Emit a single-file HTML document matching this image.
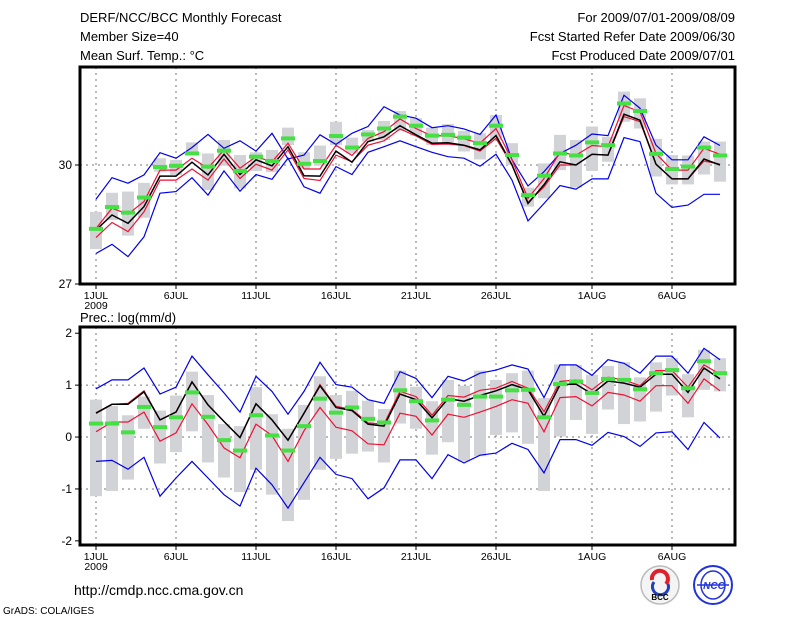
<!DOCTYPE html>
<html><head><meta charset="utf-8"><style>
html,body{margin:0;padding:0;background:#fff;}
svg{display:block;font-family:"Liberation Sans",sans-serif;}
</style></head><body>
<svg id="chart" width="800" height="618" viewBox="0 0 800 618" xmlns="http://www.w3.org/2000/svg">
<rect x="0" y="0" width="800" height="618" fill="#fff"/>
<g font-size="13" fill="#000">
<text x="80" y="22">DERF/NCC/BCC Monthly Forecast</text>
<text x="80" y="41">Member Size=40</text>
<text x="80" y="60">Mean Surf. Temp.: °C</text>
<text x="735" y="22" text-anchor="end">For 2009/07/01-2009/08/09</text>
<text x="735" y="41" text-anchor="end">Fcst Started Refer Date 2009/06/30</text>
<text x="735" y="60" text-anchor="end">Fcst Produced Date 2009/07/01</text>
<text x="80" y="322">Prec.: log(mm/d)</text>
<text x="74" y="595" font-size="14">http://cmdp.ncc.cma.gov.cn</text>
<text x="3" y="614" font-size="10">GrADS: COLA/IGES</text>
</g>
<g>
<circle cx="660" cy="585" r="19" fill="#f4f4f4" stroke="#bbb" stroke-width="1.5"/>
<path d="M652 580 a8 8 0 1 1 14 4" fill="none" stroke="#e0202a" stroke-width="4"/>
<path d="M668 584 a8 8 0 1 1 -14 -2" fill="none" stroke="#2040c0" stroke-width="3"/>
<text x="660" y="600" font-size="8" text-anchor="middle" font-weight="bold">BCC</text>
</g>
<g>
<circle cx="713" cy="585" r="19" fill="#fff" stroke="#2233dd" stroke-width="2"/>
<ellipse cx="713" cy="585" rx="12" ry="14" fill="none" stroke="#2233dd" stroke-width="1.5"/>
<line x1="697" y1="585" x2="729" y2="585" stroke="#2233dd" stroke-width="1.5"/>
<text x="714" y="589" font-size="10" text-anchor="middle" fill="#2233dd" font-style="italic" font-weight="bold">NCC</text>
</g>
<g id="top"></g>
<g id="bot"></g>
</svg>
<script>
const days = ["1JUL","6JUL","11JUL","16JUL","21JUL","26JUL","1AUG","6AUG"];
const dayIdx = [0,5,10,15,20,25,31,36];
const tTicks = [27,30];
const pTicks = [-2,-1,0,1,2];
// temperature panel
const tUp = [29.14,29.68,29.54,29.75,30.31,30.17,30.44,30.77,30.42,30.61,30.35,30.80,30.15,30.25,30.76,30.52,30.80,30.97,31.47,31.26,31.18,30.94,30.99,30.91,30.77,31.26,30.13,29.47,29.83,30.29,30.50,30.78,30.74,31.76,31.43,30.50,30.13,30.13,30.71,30.49];
const tLo = [27.77,28.00,27.69,28.19,29.29,29.33,29.68,29.24,29.85,29.34,29.76,29.64,30.17,29.45,29.29,29.96,29.76,30.32,30.46,30.61,30.46,30.32,30.21,30.17,29.97,30.27,29.62,28.59,29.03,29.48,29.39,29.65,29.65,30.69,30.59,29.29,28.93,28.99,29.26,29.26];
const tMean = [28.36,28.74,28.53,28.95,29.72,29.72,30.07,29.75,30.27,29.76,30.13,29.98,30.46,29.73,29.72,30.35,30.07,30.59,30.71,30.99,30.76,30.55,30.56,30.50,30.38,30.74,30.00,29.03,29.50,30.08,30.00,30.27,30.25,31.28,31.13,30.02,29.65,29.65,30.15,30.00];
const tRedUp = [28.40,28.91,28.76,29.08,29.87,29.87,30.17,29.92,30.38,29.92,30.21,30.08,30.55,29.90,29.90,30.50,30.24,30.67,30.84,31.16,30.92,30.73,30.74,30.66,30.55,30.92,30.13,29.16,29.66,30.32,30.25,30.49,30.46,31.50,31.34,30.29,29.87,29.87,30.42,30.27];
const tRedLo = [28.17,28.55,28.32,28.82,29.62,29.62,29.90,29.62,30.15,29.66,30.02,29.87,30.38,29.66,29.61,30.25,30.08,30.50,30.61,30.91,30.73,30.52,30.53,30.49,30.35,30.67,30.00,29.06,29.45,30.00,30.00,30.27,30.25,31.22,31.09,30.02,29.65,29.65,30.10,30.02];
const tObs = [28.39,28.94,28.80,29.18,29.95,29.98,30.29,29.96,30.36,29.85,30.21,30.10,30.67,30.03,30.10,30.73,30.44,30.77,30.92,31.22,30.99,30.74,30.76,30.69,30.55,30.99,30.25,29.24,29.73,30.29,30.24,30.57,30.50,31.55,31.36,30.28,29.90,29.96,30.44,30.24];
const tBoxHi = [28.82,29.30,29.33,29.55,30.17,30.13,30.57,30.29,30.63,30.25,30.32,30.38,30.94,30.32,30.49,31.09,30.69,30.88,31.11,31.36,31.18,30.94,31.03,30.86,30.80,31.26,30.55,29.43,30.04,30.76,30.63,30.97,30.71,31.85,31.68,30.66,30.25,30.24,30.59,30.59];
const tBoxLo = [27.88,28.61,28.22,28.67,29.83,29.75,30.24,29.37,29.98,29.41,29.85,29.82,30.50,29.90,29.98,30.50,30.29,30.59,30.63,30.86,30.74,30.50,30.57,30.34,30.14,30.63,30.00,28.95,29.16,29.87,29.43,29.85,30.08,31.09,30.92,29.71,29.51,29.51,29.76,29.58];
// precipitation panel
const pUp = [0.93,1.10,1.10,1.33,0.83,0.96,1.56,1.20,0.85,0.48,1.17,0.88,0.44,0.88,1.44,1.01,0.96,0.72,0.65,1.26,1.13,0.76,1.17,1.08,1.23,1.29,1.39,1.31,0.76,1.39,1.39,1.19,1.49,1.42,1.23,1.56,1.56,1.23,1.71,1.49];
const pLo = [-0.47,-0.45,-0.62,-0.39,-1.14,-0.79,-0.47,-0.79,-1.11,-1.33,-0.60,-0.92,-1.37,-0.88,-0.39,-0.72,-0.80,-1.19,-0.98,-0.44,-0.44,-0.80,-0.34,-0.50,-0.35,-0.31,-0.12,-0.24,-0.69,-0.05,-0.05,-0.16,0.09,0.01,-0.18,0.08,0.10,-0.24,0.28,-0.02];
const pMean = [0.46,0.63,0.63,0.87,0.33,0.48,1.06,0.62,0.30,-0.01,0.64,0.33,-0.06,0.46,0.99,0.57,0.51,0.25,0.21,0.83,0.72,0.37,0.74,0.69,0.80,0.89,1.01,0.91,0.40,1.01,1.02,0.83,1.08,1.04,0.96,1.21,1.21,0.86,1.33,1.12];
const pRedUp = [0.47,0.63,0.65,0.89,0.33,0.48,1.07,0.62,0.30,-0.01,0.64,0.33,-0.06,0.46,1.01,0.59,0.53,0.27,0.25,0.88,0.78,0.42,0.80,0.77,0.90,0.94,1.07,0.94,0.49,1.07,1.10,0.91,1.15,1.10,0.99,1.28,1.28,0.96,1.39,1.21];
const pRedLo = [0.10,0.29,0.29,0.48,-0.08,0.08,0.64,0.24,-0.21,-0.40,0.25,0.03,-0.47,0.12,0.57,0.19,0.12,-0.13,-0.15,0.46,0.40,0.04,0.44,0.38,0.48,0.59,0.72,0.65,0.10,0.76,0.78,0.60,0.86,0.81,0.69,0.99,0.99,0.65,1.12,0.89];
const pObs = [0.26,0.26,0.09,0.58,0.19,0.38,0.86,0.39,-0.06,-0.26,0.42,0.03,-0.26,0.21,0.74,0.47,0.57,0.35,0.28,0.90,0.69,0.32,0.72,0.62,0.78,0.78,0.90,0.91,0.38,1.02,1.07,0.85,1.12,1.10,0.92,1.23,1.29,0.94,1.46,1.23];
const pBoxHi = [0.72,0.60,0.42,0.78,0.51,0.80,1.26,0.81,0.25,0.21,0.96,0.44,0.16,0.62,1.17,0.81,0.89,0.70,0.54,1.28,0.97,0.69,1.10,0.99,1.28,1.10,1.23,1.28,0.75,1.40,1.39,1.20,1.37,1.44,1.15,1.44,1.52,1.21,1.68,1.52];
const pBoxLo = [-1.14,-1.04,-0.82,0.16,-0.51,-0.29,0.11,-0.49,-0.78,-1.06,-0.63,-1.11,-1.62,-1.21,-0.63,-0.42,-0.32,-0.28,-0.49,0.26,0.16,-0.34,-0.10,-0.47,-0.37,0.04,0.09,-0.13,-1.04,0.01,0.33,0.06,0.53,0.25,0.30,0.49,0.80,0.38,0.91,0.88];

const NS = "http://www.w3.org/2000/svg";
function mk(parent, tag, attrs){const e=document.createElementNS(NS,tag);for(const k in attrs)e.setAttribute(k,attrs[k]);parent.appendChild(e);return e;}
const X0=80, X1=735;
function xs(i){return 96+16*i;}

function panel(g, top, bottom, vmin, vmax, ticks, gridVals, series, name){
  const ys = v => bottom - (v - vmin)/(vmax - vmin)*(bottom - top);
  dayIdx.forEach(i=>{
    const l=mk(g,"line",{x1:xs(i),x2:xs(i),y1:top,y2:bottom,stroke:"#777","stroke-width":1,"stroke-dasharray":"2,4"});
    
    
  });
  gridVals.forEach(v=>{
    const l=mk(g,"line",{x1:X0,x2:X1,y1:ys(v),y2:ys(v),stroke:"#777","stroke-width":1,"stroke-dasharray":"2,4"});
    
    
  });
  series.boxHi.forEach((h,i)=>{
    const y1=ys(h), y2=ys(series.boxLo[i]);
    const r=mk(g,"rect",{x:xs(i)-6,y:y1,width:12,height:Math.max(1,y2-y1),fill:"#d2d3d7"});
    
    
  });
  const lines=[[series.lo,"#0000ee","lower-bound-line"],[series.up,"#0000ee","upper-bound-line"],[series.redLo,"#ee1133","lower-interval-line"],[series.redUp,"#ee1133","upper-interval-line"],[series.mean,"#000","ensemble-mean-line"]];
  lines.forEach(([arr,col,nm])=>{
    const p=mk(g,"polyline",{points:arr.map((v,i)=>xs(i)+","+ys(v).toFixed(1)).join(" "),fill:"none",stroke:col,"stroke-width":nm==="ensemble-mean-line"?1.5:1.2});
    
    
  });
  series.obs.forEach((v,i)=>{
    const r=mk(g,"rect",{x:xs(i)-7,y:ys(v)-2,width:14,height:4,fill:"#44e044"});
    
    
  });
  const f=mk(g,"rect",{x:X0,y:top,width:X1-X0,height:bottom-top,fill:"none",stroke:"#000","stroke-width":3});
  
  
  ticks.forEach(v=>{
    mk(g,"line",{x1:X0-5,x2:X0,y1:ys(v),y2:ys(v),stroke:"#000","stroke-width":1});
    const t=mk(g,"text",{x:X0-8,y:ys(v)+4,"font-size":12,"text-anchor":"end"});
    t.textContent=v;
    
    
  });
  dayIdx.forEach((i,k)=>{
    mk(g,"line",{x1:xs(i),x2:xs(i),y1:bottom,y2:bottom+5,stroke:"#000","stroke-width":1});
    const t=mk(g,"text",{x:xs(i),y:bottom+15,"font-size":10.5,"text-anchor":"middle"});
    t.textContent=days[k];
    
    
  });
  const yr=mk(g,"text",{x:xs(0),y:bottom+25,"font-size":10.5,"text-anchor":"middle"});
  yr.textContent="2009";
  
  
}
panel(document.getElementById("top"),67,284,27,32.47,tTicks,[30],
  {up:tUp,lo:tLo,mean:tMean,redUp:tRedUp,redLo:tRedLo,obs:tObs,boxHi:tBoxHi,boxLo:tBoxLo},"temperature-panel");
panel(document.getElementById("bot"),327,545,-2.08,2.12,pTicks,[-1,0,1],
  {up:pUp,lo:pLo,mean:pMean,redUp:pRedUp,redLo:pRedLo,obs:pObs,boxHi:pBoxHi,boxLo:pBoxLo},"precipitation-panel");
</script>
</body></html>
